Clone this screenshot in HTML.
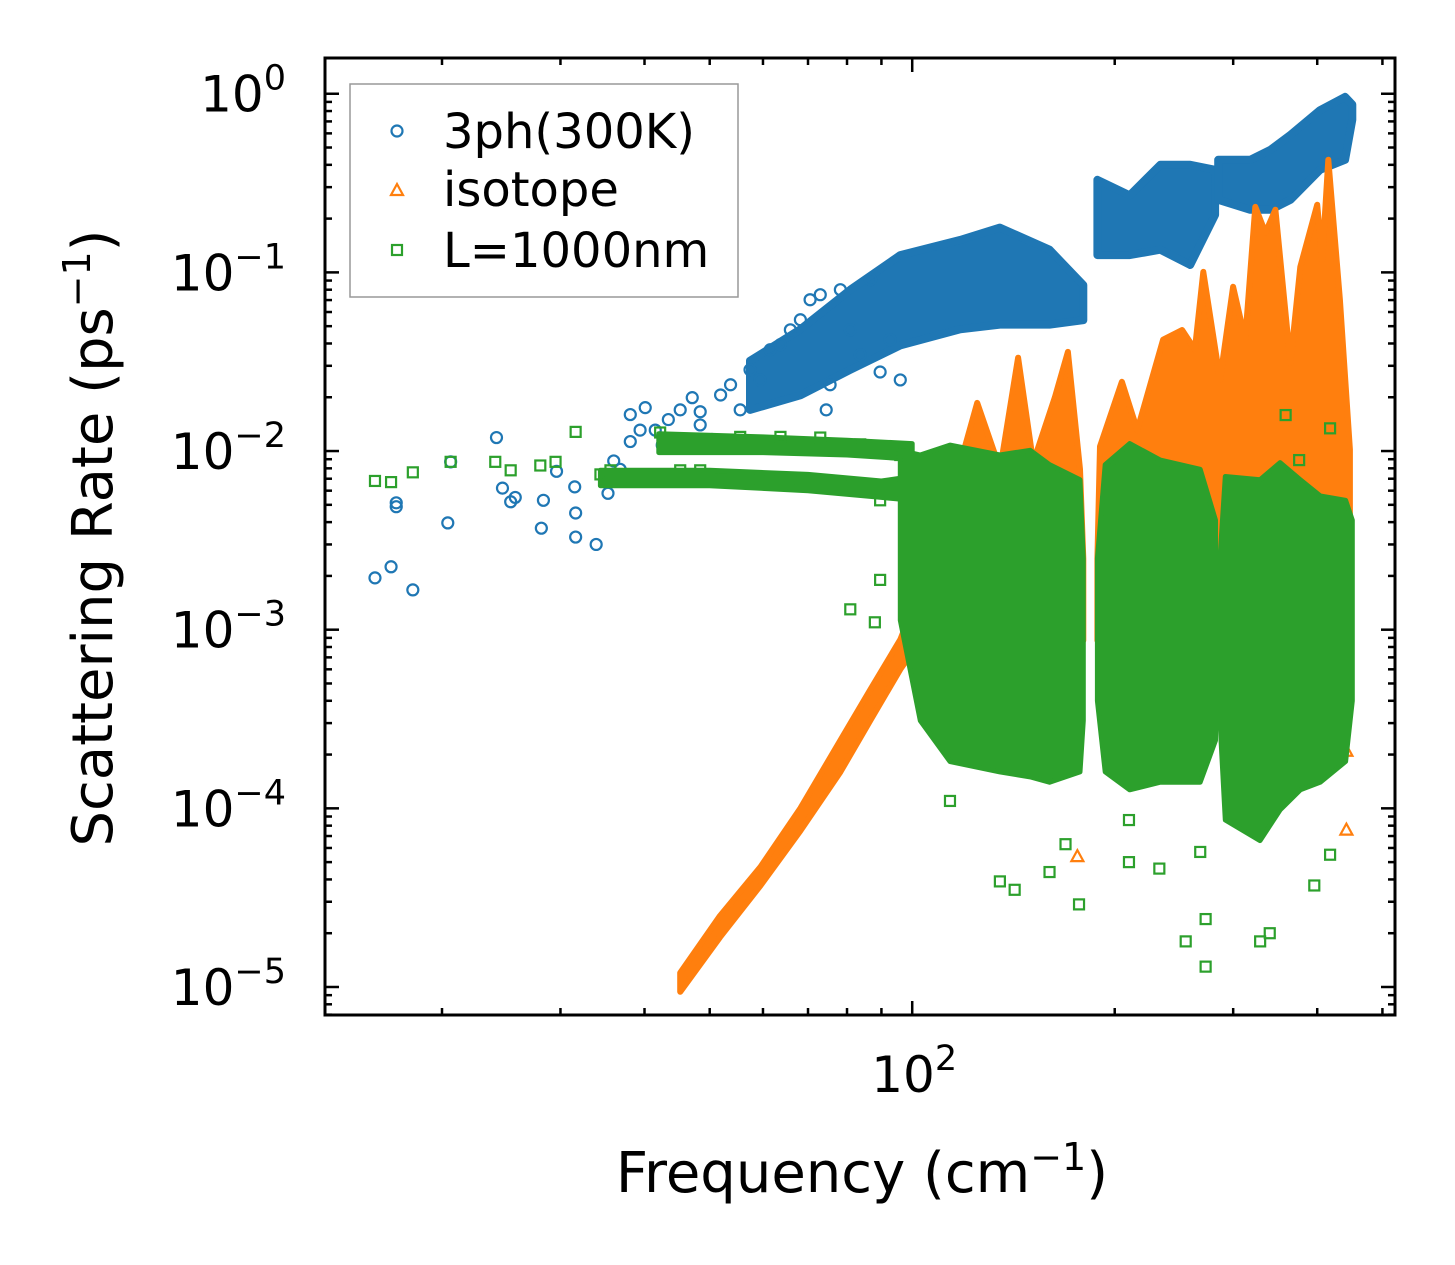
<!DOCTYPE html>
<html><head><meta charset="utf-8"><style>
html,body{margin:0;padding:0;background:#fff;}
svg{display:block;font-family:"DejaVu Sans","Liberation Sans",sans-serif;}
</style></head><body>
<svg id="chart" width="1455" height="1265" viewBox="0 0 1455 1265" xmlns="http://www.w3.org/2000/svg">
<rect width="1455" height="1265" fill="#fff"/>
<g id="marks"></g>
<g id="axes"></g>
<g>
<rect x="350" y="84" width="388" height="213" fill="#fff" fill-opacity="0.8" stroke="#999" stroke-width="1.5"/>
<circle cx="397" cy="131" r="5.5" fill="none" stroke="#1f77b4" stroke-width="2.2"/>
<text x="443" y="148" font-size="48">3ph(300K)</text>
<path d="M391,195 L403,195 L397,184 Z" fill="none" stroke="#ff7f0e" stroke-width="2.2"/>
<text x="443" y="206" font-size="48">isotope</text>
<rect x="392" y="245" width="10" height="10" fill="none" stroke="#2ca02c" stroke-width="2.2"/>
<text x="443" y="267" font-size="48">L=1000nm</text>
</g>
<text x="862" y="1192" font-size="56" text-anchor="middle">Frequency (cm<tspan dy="-22" font-size="38">−1</tspan><tspan dy="22">)</tspan></text>
<text transform="translate(112,538) rotate(-90)" font-size="56" text-anchor="middle">Scattering Rate (ps<tspan dy="-22" font-size="38">−1</tspan><tspan dy="22">)</tspan></text>
</svg>
<script>
// axis domain (data units)
const xDomain = [13.4, 522];
const yDomain = [1.585, 6.97e-6];
const yTickExps = [0, -1, -2, -3, -4, -5];
const xTickExps = [2];

// 3ph scattered points
const blueFreq = [15.9,16.8,18.1,17.1,17.1,20.4,20.6,24.1,24.6,25.3,25.7,28.1,28.3,29.6,31.5,31.6,31.6,33.9,35.3,36.0,36.8,38.1,38.1,39.4,40.1,41.5,42.5,43.4,45.2,45.2,47.1,48.4,48.4,50.4,51.9,53.7,55.5,57.4,59.4,61.5,63.7,65.9,68.2,70.5,73.0,74.5,75.5,78.2,80.9,83.7,86.7,89.6,92.7,96];
const blueRate = [0.00195,0.00225,0.00167,0.00488,0.00513,0.00396,0.0087,0.0119,0.0062,0.0052,0.0055,0.0037,0.0053,0.0077,0.0063,0.0033,0.0045,0.0030,0.0058,0.0088,0.0079,0.016,0.0113,0.0131,0.0175,0.0131,0.0108,0.015,0.017,0.0116,0.0199,0.014,0.0166,0.0116,0.0206,0.0235,0.017,0.0285,0.025,0.0369,0.0394,0.0477,0.0543,0.0703,0.075,0.017,0.0235,0.08,0.0477,0.0346,0.091,0.0277,0.042,0.025];
// 3ph dense bands (segments)
const blueBandFreq = [[57.4,68.2,80.9,96,117.9,135,160,179.6],[188.5,210.5,233.8,259,282],[285,318,341,365,404,440,451]];
const blueBandLow = [[0.017,0.0205,0.0285,0.039,0.048,0.051,0.051,0.054],[0.125,0.125,0.134,0.11,0.21],[0.255,0.224,0.224,0.255,0.375,0.427,0.715]];
const blueBandHigh = [[0.032,0.048,0.08,0.125,0.152,0.178,0.134,0.085],[0.33,0.27,0.40,0.40,0.375],[0.427,0.427,0.486,0.589,0.81,0.96,0.87]];

// isotope bands
const orangeBandFreq = [[45.2,51.8,59.5,68.2,78.2,86.6,96,102.8],[102.8,113.8,124.9,135.1,143.7,151.3,163.0,170.4,177.6,179.6],[188.5,190.2,205.0,216.1,236.0,251.9,263.2,270.8,286.8,299.9,312.6,323.6,335.0,346.7,364.9,377.5,400.0,406.8,415.5,432.3,447.3]];
const orangeBandLow = [[9.4e-6,1.9e-5,3.7e-5,7.5e-5,1.6e-4,3.1e-4,6.0e-4,8.7e-4],[8.7e-4,8.7e-4,8.7e-4,8.7e-4,8.7e-4,8.7e-4,8.7e-4,8.7e-4,8.7e-4,8.7e-4],[8.7e-4,8.7e-4,8.7e-4,8.7e-4,8.7e-4,8.7e-4,8.7e-4,8.7e-4,8.7e-4,8.7e-4,8.7e-4,8.7e-4,8.7e-4,8.7e-4,8.7e-4,8.7e-4,8.7e-4,8.7e-4,8.7e-4,8.7e-4,8.7e-4]];
const orangeBandHigh = [[1.2e-5,2.5e-5,4.7e-5,1.0e-4,2.4e-4,4.6e-4,8.8e-4,0.00168],[0.00168,0.0053,0.0186,0.0079,0.0333,0.0086,0.0201,0.0359,0.0079,0.0025],[0.0025,0.0106,0.0244,0.0131,0.042,0.0476,0.037,0.1006,0.025,0.083,0.042,0.2326,0.1665,0.2242,0.0311,0.1073,0.2389,0.1176,0.4269,0.0703,0.0102]];
const orangeFreq = [442,442,442,176];
const orangeRate = [7.6e-5,2.1e-4,8.3e-4,5.4e-5];

// boundary (L=1000nm) scattered points
const greenFreq = [15.9,16.8,18.1,20.6,24.0,25.3,28.0,29.5,31.6,34.4,35.6,38.1,42.2,45.2,48.4,51.8,55.5,59.5,63.7,68.2,73,78.2,83.7,89.6,96,113.8,135,142,160,169,177,210,210,233,255,268,273,273,329,340,396,418,80.9,88,89.6,203,236,359,418,376];
const greenRate = [0.0068,0.0067,0.0076,0.0087,0.0087,0.0078,0.0083,0.0087,0.0128,0.0074,0.0078,0.007,0.0127,0.0078,0.0078,0.0069,0.012,0.007,0.012,0.007,0.0119,0.0065,0.0109,0.0053,0.0095,1.1e-4,3.9e-5,3.5e-5,4.4e-5,6.3e-5,2.9e-5,8.6e-5,5e-5,4.6e-5,1.8e-5,5.7e-5,1.3e-5,2.4e-5,1.8e-5,2.0e-5,3.7e-5,5.5e-5,0.0013,0.0011,0.0019,0.008,0.0078,0.0159,0.0134,0.0089];
// boundary dense bands
const greenBandFreq = [[34.4,50,70,90,100],[42,60,80,100],[96,102.8,113.8,135,149.7,160,177.6,179.6],[188.5,193.6,210.5,233.8,268.0,282.4],[286.8,292.0,328.9,352.3,377.5,404.2,440.8,451.0]];
const greenBandLow = [[0.0064,0.0064,0.006,0.0055,0.0053],[0.0098,0.0098,0.0095,0.009],[0.00113,3.1e-4,1.83e-4,1.6e-4,1.5e-4,1.4e-4,1.6e-4,3.1e-4],[4e-4,1.6e-4,1.27e-4,1.4e-4,1.4e-4,2.4e-4],[3.1e-4,8.6e-5,6.6e-5,9.8e-5,1.27e-4,1.4e-4,1.83e-4,4e-4]];
const greenBandHigh = [[0.0078,0.0078,0.0074,0.0068,0.0072],[0.0125,0.012,0.0115,0.011],[0.0101,0.0095,0.0108,0.0095,0.0101,0.0084,0.0069,0.0025],[0.0025,0.0084,0.011,0.0089,0.0079,0.0041],[0.0025,0.0072,0.0069,0.0086,0.0069,0.0056,0.0053,0.0041]];

const L = 325, R = 1395, T = 58, B = 1015;
const lx0 = Math.log10(xDomain[0]), lx1 = Math.log10(xDomain[1]);
const ly0 = Math.log10(yDomain[0]), ly1 = Math.log10(yDomain[1]);
function xs(v){ return L + (Math.log10(v) - lx0) / (lx1 - lx0) * (R - L); }
function ys(v){ return T + (Math.log10(v) - ly0) / (ly1 - ly0) * (B - T); }
const NS = 'http://www.w3.org/2000/svg';
const marks = document.getElementById('marks');
const axes = document.getElementById('axes');
function mk(tag, attrs, parent){ const e = document.createElementNS(NS, tag); for (const k in attrs) e.setAttribute(k, attrs[k]); parent.appendChild(e); return e; }

function bands(fs, los, his, color, name, sw){
  for (let s = 0; s < fs.length; s++){
    let pts = [];
    for (let i = 0; i < fs[s].length; i++) pts.push(xs(fs[s][i]).toFixed(1) + ',' + ys(his[s][i]).toFixed(1));
    for (let i = fs[s].length - 1; i >= 0; i--) pts.push(xs(fs[s][i]).toFixed(1) + ',' + ys(los[s][i]).toFixed(1));
    const p = mk('polygon', {points: pts.join(' '), fill: color, stroke: color, 'stroke-width': sw, 'stroke-linejoin': 'round'}, marks);
    
    
  }
}
function scatter(fs, rs, color, shape, name){
  for (let i = 0; i < fs.length; i++){
    const x = xs(fs[i]), y = ys(rs[i]);
    let e;
    if (shape === 'c') e = mk('circle', {cx: x, cy: y, r: 5.5, fill: 'none', stroke: color, 'stroke-width': 2.2}, marks);
    else if (shape === 's') e = mk('rect', {x: x - 5, y: y - 5, width: 10, height: 10, fill: 'none', stroke: color, 'stroke-width': 2.2}, marks);
    else e = mk('path', {d: `M${x-6},${y+5} L${x+6},${y+5} L${x},${y-6} Z`, fill: 'none', stroke: color, 'stroke-width': 2.2}, marks);
    
    
  }
}
bands(blueBandFreq, blueBandLow, blueBandHigh, '#1f77b4', '3ph-dense-band', 8);
scatter(blueFreq, blueRate, '#1f77b4', 'c', '3ph-point');
bands(orangeBandFreq, orangeBandLow, orangeBandHigh, '#ff7f0e', 'isotope-dense-band', 6);
scatter(orangeFreq, orangeRate, '#ff7f0e', 't', 'isotope-point');
bands(greenBandFreq, greenBandLow, greenBandHigh, '#2ca02c', 'boundary-dense-band', 5);
scatter(greenFreq, greenRate, '#2ca02c', 's', 'boundary-point');

// axes frame
const fr = mk('rect', {x: L, y: T, width: R - L, height: B - T, fill: 'none', stroke: '#000', 'stroke-width': 3}, axes);


function tick(x1, y1, x2, y2, name){ const t = mk('line', {x1, y1, x2, y2, stroke: '#000', 'stroke-width': 2.5}, axes);   }
for (let e = 1; e >= -6; e--){
  for (let m = 1; m <= 9; m++){
    const v = m * Math.pow(10, e), y = ys(v);
    if (y < T - 0.5 || y > B + 0.5) continue;
    const len = m === 1 ? 14 : 7;
    tick(L, y, L + len, y, 'y-tick');
    tick(R, y, R - len, y, 'y-tick-right');
  }
}
yTickExps.forEach(e => {
  const y = ys(Math.pow(10, e));
  const t = mk('text', {x: 286, y: y + 18, 'font-size': 50, 'text-anchor': 'end'}, axes);
  
  
  t.innerHTML = '10<tspan dy="-22" font-size="35">' + (e < 0 ? '−' + (-e) : e) + '</tspan>';
});
for (let e = 1; e <= 2; e++){
  for (let m = 1; m <= 9; m++){
    const v = m * Math.pow(10, e), x = xs(v);
    if (x < L - 0.5 || x > R + 0.5) continue;
    const len = m === 1 ? 14 : 7;
    tick(x, B, x, B - len, 'x-tick');
    tick(x, T, x, T + len, 'x-tick-top');
  }
}
xTickExps.forEach(e => {
  const x = xs(Math.pow(10, e));
  const t = mk('text', {x: x + 2, y: 1092, 'font-size': 50, 'text-anchor': 'middle'}, axes);
  
  
  t.innerHTML = '10<tspan dy="-22" font-size="35">' + e + '</tspan>';
});
</script>
</body></html>
